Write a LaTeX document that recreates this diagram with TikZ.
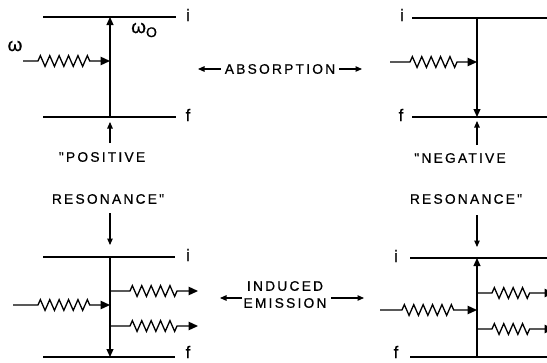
\documentclass[tikz,border=0pt]{standalone}
\usepackage{fontspec}
\setmainfont[FakeBold=0.6]{Liberation Sans}
\newfontfamily\capsfont[LetterSpace=16,FakeBold=0.6]{Liberation Sans}
\usetikzlibrary{arrows.meta,decorations.pathmorphing}
\begin{document}
\begin{tikzpicture}[x=1pt,y=-1pt,
  level/.style={line width=1.2pt},
  trans/.style={line width=1.2pt,-{Triangle[length=8pt,width=7pt]}},
  small/.style={line width=1.1pt,-{Triangle[length=6.5pt,width=5.5pt]}},
  photon/.style={line width=1.3pt,-{Triangle[length=9.5pt,width=8.5pt]},
    decorate,decoration={zigzag,segment length=9.4pt,amplitude=5.4pt,
    pre length=#1,post length=20pt}},
  photon/.default=18pt,
  lbl/.style={font=\fontsize{17}{18}\selectfont,inner sep=0pt},
  caps/.style={font=\capsfont\fontsize{13.8}{15}\selectfont,inner sep=0pt}]
\clip (0,0) rectangle (547,362);

% ---- absorption, positive resonance (top left)
\coordinate (a1) at (43,17);  \coordinate (a2) at (176,17);
\coordinate (a3) at (43,117); \coordinate (a4) at (176,117);
\coordinate (aT) at (110,17); \coordinate (aB) at (110,117);
\coordinate (aIn) at (23,61); \coordinate (aHit) at (110,61);
\draw[level] (a1) -- (a2);
\draw[level] (a3) -- (a4);
\draw[trans] (aB) -- (aT);
\draw[photon=15pt] (aIn) -- (aHit);
\node[lbl] (ai) at (188,15) {i};
\node[lbl] (af) at (188,115) {f};
\node[lbl,font=\fontsize{19}{20}\selectfont] (w) at (15,46) {ω};
\node[lbl,font=\fontsize{19}{20}\selectfont,anchor=west] (w0) at (131,30) {ω\raisebox{-4pt}{\fontsize{14}{15}\selectfont O}};

% ---- absorption, negative resonance (top right)
\coordinate (b1) at (412,18);  \coordinate (b2) at (547,18);
\coordinate (b3) at (412,117); \coordinate (b4) at (547,117);
\coordinate (bT) at (477,18);  \coordinate (bB) at (477,117);
\coordinate (bIn) at (390,62); \coordinate (bHit) at (477,62);
\draw[level] (b1) -- (b2);
\draw[level] (b3) -- (b4);
\draw[trans] (bT) -- (bB);
\draw[photon=20pt] (bIn) -- (bHit);
\node[lbl] (bi) at (402,15) {i};
\node[lbl] (bf) at (401,115) {f};

% ---- induced emission, positive resonance (bottom left)
\coordinate (c1) at (43,257);  \coordinate (c2) at (175,257);
\coordinate (c3) at (43,357);  \coordinate (c4) at (175,357);
\coordinate (cT) at (110,257); \coordinate (cB) at (110,357);
\coordinate (cIn) at (13,305); \coordinate (cHit) at (110,305);
\coordinate (cU) at (110,291); \coordinate (cUo) at (198,291);
\coordinate (cL) at (110,326); \coordinate (cLo) at (198,326);
\draw[level] (c1) -- (c2);
\draw[level] (c3) -- (c4);
\draw[trans] (cT) -- (cB);
\draw[photon=25pt] (cIn) -- (cHit);
\draw[photon=20pt] (cU) -- (cUo);
\draw[photon=20pt] (cL) -- (cLo);
\node[lbl] (ci) at (188,255) {i};
\node[lbl] (cf) at (188,352) {f};

% ---- induced emission, negative resonance (bottom right)
\coordinate (d1) at (410,258); \coordinate (d2) at (547,258);
\coordinate (d3) at (410,357); \coordinate (d4) at (547,357);
\coordinate (dT) at (477,258); \coordinate (dB) at (477,357);
\coordinate (dIn) at (380,310); \coordinate (dHit) at (477,310);
\coordinate (dU) at (477,293); \coordinate (dUo) at (554,293);
\coordinate (dL) at (477,329); \coordinate (dLo) at (554,329);
\draw[level] (d1) -- (d2);
\draw[level] (d3) -- (d4);
\draw[trans] (dB) -- (dT);
\draw[photon=22pt] (dIn) -- (dHit);
\draw[photon=15pt] (dU) -- (dUo);
\draw[photon=15pt] (dL) -- (dLo);
\node[lbl] (di) at (396,256) {i};
\node[lbl] (df) at (396,352) {f};

% ---- resonance labels
\node[caps] (pos) at (102,157) {"POSITIVE};
\node[caps] (posr) at (108,199) {RESONANCE"};
\coordinate (pu1) at (110,143); \coordinate (pu2) at (110,122);
\coordinate (pd1) at (110,213); \coordinate (pd2) at (110,245);
\draw[small] (pu1) -- (pu2);
\draw[small] (pd1) -- (pd2);
\node[caps] (neg) at (460,158) {"NEGATIVE};
\node[caps] (negr) at (466,199) {RESONANCE"};
\coordinate (nu1) at (477,145); \coordinate (nu2) at (477,121);
\coordinate (nd1) at (477,215); \coordinate (nd2) at (477,247);
\draw[small] (nu1) -- (nu2);
\draw[small] (nd1) -- (nd2);

% ---- process labels
\node[caps] (abs) at (280,69) {ABSORPTION};
\coordinate (al) at (198,69); \coordinate (ar) at (362,69);
\draw[small] (abs.west) ++(-4,0) coordinate (abw) -- (al);
\draw[small] (abs.east) ++(4,0) coordinate (abe) -- (ar);
\node[caps] (ind) at (285,286) {INDUCED};
\node[caps] (emi) at (285,303) {EMISSION};
\coordinate (il) at (220,298); \coordinate (ir) at (364,298);
\coordinate (ilt) at (242,298); \coordinate (irt) at (331,298);
\draw[small] (ilt) -- (il);
\draw[small] (irt) -- (ir);
\end{tikzpicture}
\end{document}
